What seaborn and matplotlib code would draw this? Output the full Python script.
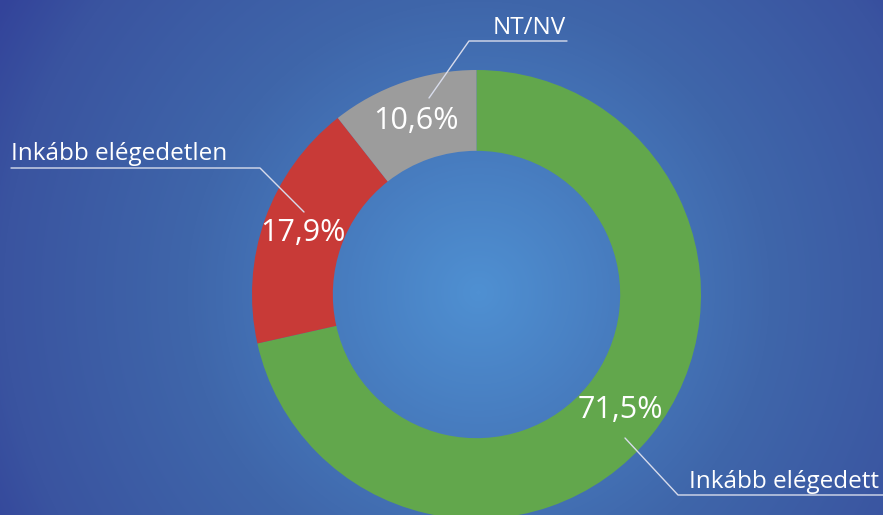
import numpy as np
import matplotlib
matplotlib.use("Agg")
import matplotlib.pyplot as plt
from matplotlib.colors import LinearSegmentedColormap
from matplotlib.lines import Line2D
import seaborn as sns

# Datos del gráfico
categorias = ["Inkább elégedett", "Inkább elégedetlen", "NT/NV"]
valores = [71.5, 17.9, 10.6]
colores = ["#62a74c", "#c83a37", "#9c9c9c"]

sns.set_theme(style="white")
plt.rcParams["font.family"] = ["Open Sans", "DejaVu Sans"]

W, H = 883, 515
fig = plt.figure(figsize=(W / 100, H / 100), dpi=100)

# Fondo con degradado radial
fondo = fig.add_axes([0, 0, 1, 1])
yy, xx = np.mgrid[0:H, 0:W]
dist = np.hypot(xx - 478, yy - 292) / 560
cmap = LinearSegmentedColormap.from_list(
    "fondo", [(0, "#4f90d2"), (0.52, "#3f66aa"), (0.85, "#3a54a0"), (1, "#33439a")])
fondo.imshow(dist, cmap=cmap, vmin=0, vmax=1, extent=[0, W, H, 0], aspect="auto")
fondo.set_axis_off()

# Dona
cx, cy, R = 476.5, 294.5, 224.5
ax = fig.add_axes([(cx - R) / W, (H - cy - R) / H, 2 * R / W, 2 * R / H])
wedges, textos, pcts = ax.pie(
    valores, colors=colores, startangle=90, counterclock=False,
    autopct=lambda p: f"{p:.1f}%".replace(".", ","), pctdistance=0.82,
    wedgeprops=dict(width=0.36, linewidth=0),
    textprops=dict(color="white", fontsize=22))
ax.set_xlim(-1, 1)
ax.set_ylim(-1, 1)
ax.set_axis_off()

# Etiquetas con líneas guía (coordenadas en píxeles)
def fp(x, y):
    return x / W, 1 - y / H

guias = [
    [(429, 98), (469, 41), (567, 41)],
    [(304, 212), (260, 168), (11, 168)],
    [(625, 438), (678, 495), (883, 495)],
]
pos_texto = [(493, 34, "left"), (11, 160, "left"), (879, 488, "right")]
orden = [2, 1, 0]

for i, guia, (tx, ty, ha) in zip(orden, guias, pos_texto):
    xs, ys = zip(*[fp(x, y) for x, y in guia])
    fig.add_artist(Line2D(xs, ys, color="#d8dcec", lw=1.0, transform=fig.transFigure))
    fig.text(*fp(tx, ty), categorias[i], color="white", fontsize=17.5,
             ha=ha, va="baseline")

plt.savefig("out.png", dpi=100)
